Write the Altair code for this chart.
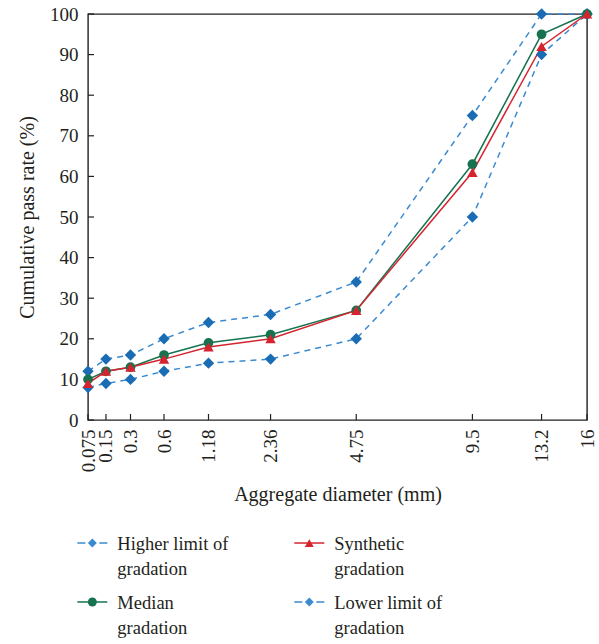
import altair as alt
import pandas as pd

# ---- data ----
sizes = [0.075, 0.15, 0.3, 0.6, 1.18, 2.36, 4.75, 9.5, 13.2, 16]
higher = [12, 15, 16, 20, 24, 26, 34, 75, 100, 100]
median = [10, 12, 13, 16, 19, 21, 27, 63, 95, 100]
synthetic = [9, 12, 13, 15, 18, 20, 27, 61, 92, 100]
lower = [8, 9, 10, 12, 14, 15, 20, 50, 90, 100]
y_ticks = [0, 10, 20, 30, 40, 50, 60, 70, 80, 90, 100]

series_names = ["Higher limit of gradation", "Synthetic gradation",
                "Median gradation", "Lower limit of gradation"]
legend_text = ["Higher limit of\ngradation", "Synthetic\ngradation",
               "Median\ngradation", "Lower limit of\ngradation"]
legend_col = [0, 1, 0, 1]
legend_row = [0, 0, 1, 1]
legend_dashed = [True, False, False, True]

BLUE = "#1a6db5"
BLUE_LINE = "#3a8ad0"
GREEN = "#17724f"
RED = "#d52430"
INK = "#231f20"
FONT = "Liberation Serif"

W, H = 499, 406

x_scale = alt.Scale(type="pow", exponent=0.45, domain=[0.075, 16], nice=False, zero=False)
y_scale = alt.Scale(domain=[0, 100], nice=False, zero=True)


def series_df(vals):
    return pd.DataFrame({"size": sizes, "value": vals})


def series_layers(vals, color, line_color, shape, msize, dash=None):
    base = alt.Chart(series_df(vals))
    line_kw = dict(color=line_color, strokeWidth=1.5, clip=False)
    if dash:
        line_kw["strokeDash"] = dash
    line = base.mark_line(**line_kw).encode(
        x=alt.X("size:Q", scale=x_scale),
        y=alt.Y("value:Q", scale=y_scale),
    )
    pts = base.mark_point(shape=shape, filled=True, size=msize, color=color, opacity=1, clip=False).encode(
        x=alt.X("size:Q", scale=x_scale),
        y=alt.Y("value:Q", scale=y_scale),
    )
    return line, pts


hl, hp = series_layers(higher, BLUE, BLUE_LINE, "diamond", 130, [6, 5])
ll, lp = series_layers(lower, BLUE, BLUE_LINE, "diamond", 130, [6, 5])
ml, mp = series_layers(median, GREEN, GREEN, "circle", 95)
sl, sp = series_layers(synthetic, RED, RED, "triangle-up", 110)

# axes (no ticks; inward ticks drawn as rules)
axis_layer = alt.Chart(series_df(higher)).mark_point(opacity=0).encode(
    x=alt.X("size:Q", scale=x_scale,
            axis=alt.Axis(values=sizes, format=".4~g", labelAngle=-90, labelAlign="right",
                          labelBaseline="middle", labelOverlap=False, labelFlush=False,
                          ticks=False, domain=False, grid=False, labelPadding=9,
                          title="Aggregate diameter (mm)", titlePadding=13)),
    y=alt.Y("value:Q", scale=y_scale,
            axis=alt.Axis(values=y_ticks, ticks=False, domain=False, grid=False,
                          labelPadding=10, title="Cumulative pass rate (%)", titlePadding=12)),
)

xt = alt.Chart(pd.DataFrame({"size": sizes})).mark_rule(color=INK, strokeWidth=1.2).encode(
    x=alt.X("size:Q", scale=x_scale),
    y=alt.value(H),
    y2=alt.value(H - 6),
)
yt = alt.Chart(pd.DataFrame({"value": y_ticks})).mark_rule(color=INK, strokeWidth=1.2).encode(
    y=alt.Y("value:Q", scale=y_scale),
    x=alt.value(0),
    x2=alt.value(6),
)

main = alt.layer(axis_layer, xt, yt, hl, ll, ml, sl, hp, lp, mp, sp).properties(
    width=W, height=H, view=alt.ViewBackground(stroke=INK, strokeWidth=1.4)
)

# ---- legend panel ----
leg = pd.DataFrame({"name": series_names, "label": legend_text, "col": legend_col,
                    "row": legend_row, "dashed": legend_dashed})
leg_color = alt.Scale(domain=series_names, range=[BLUE_LINE, RED, GREEN, BLUE_LINE])
leg_pt_color = alt.Scale(domain=series_names, range=[BLUE, RED, GREEN, BLUE])
leg_shape = alt.Scale(domain=series_names, range=["diamond", "triangle-up", "circle", "diamond"])
lx = alt.Scale(domain=[-0.02, 2.28], nice=False, zero=False)
ly = alt.Scale(domain=[-0.56, 1.56], nice=False, zero=False, reverse=True)

lbase = alt.Chart(leg)
rule_enc = dict(
    x=alt.X("col:Q", scale=lx, axis=None),
    x2="col:Q",
    y=alt.Y("row:Q", scale=ly, axis=None),
    color=alt.Color("name:N", scale=leg_color, legend=None),
)
l_rule_dash = lbase.transform_filter("datum.dashed").mark_rule(
    strokeWidth=1.5, xOffset=-15, x2Offset=15, strokeDash=[8, 14]).encode(**rule_enc)
l_rule_solid = lbase.transform_filter("!datum.dashed").mark_rule(
    strokeWidth=1.5, xOffset=-15, x2Offset=15).encode(**rule_enc)
l_pt = lbase.mark_point(filled=True, opacity=1, size=80).encode(
    x=alt.X("col:Q", scale=lx, axis=None),
    y=alt.Y("row:Q", scale=ly, axis=None),
    color=alt.Color("name:N", scale=leg_pt_color, legend=None),
    shape=alt.Shape("name:N", scale=leg_shape, legend=None),
)
l_txt = lbase.mark_text(align="left", baseline="middle", lineBreak="\n", lineHeight=25,
                        dx=25, dy=1, font=FONT, fontSize=18.5, color=INK).encode(
    x=alt.X("col:Q", scale=lx, axis=None),
    y=alt.Y("row:Q", scale=ly, axis=None),
    text="label:N",
)
legend_panel = alt.layer(l_rule_dash, l_rule_solid, l_pt, l_txt).properties(width=W, height=125)

chart = alt.vconcat(main, legend_panel, spacing=4).properties(
    padding={"left": 16, "top": 4, "right": 0, "bottom": 0}
).configure_view(strokeWidth=0).configure_axis(
    labelFont=FONT, titleFont=FONT, labelFontSize=19, titleFontSize=20,
    labelColor=INK, titleColor=INK, titleFontWeight="normal",
).configure_concat(spacing=4)

chart.save("out.html", embed_options={"renderer": "svg", "actions": False})
